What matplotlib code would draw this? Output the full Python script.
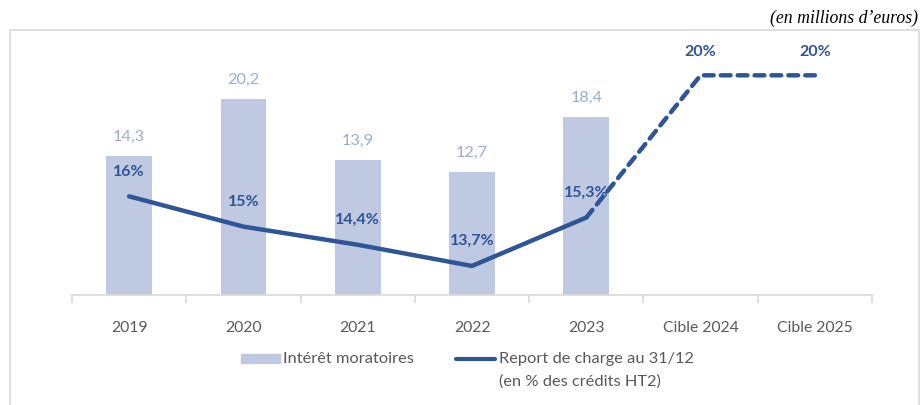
import matplotlib.pyplot as plt
import matplotlib.patches as mpatches
import matplotlib.lines as mlines

# data
categories = ["2019", "2020", "2021", "2022", "2023", "Cible 2024", "Cible 2025"]
interets = [14.3, 20.2, 13.9, 12.7, 18.4]
interets_labels = ["14,3", "20,2", "13,9", "12,7", "18,4"]
report = [16.0, 15.0, 14.4, 13.7, 15.3, 20.0, 20.0]
report_labels = ["16%", "15%", "14,4%", "13,7%", "15,3%", "20%", "20%"]

bar_color = "#BFC9E2"
bar_text = "#9DACD4"
line_color = "#2F5597"
grey = "#595959"
W, H = 921, 406

plt.rcParams['font.family'] = ['Lato', 'DejaVu Sans']

fig = plt.figure(figsize=(W / 100, H / 100), dpi=100)

# outer frame
frame = mpatches.Rectangle((10 / W, -0.1), 909 / W, 1.1 - 31 / H,
                           transform=fig.transFigure, fill=False,
                           edgecolor="#D9D9D9", linewidth=1.2)
fig.patches.append(frame)

fig.text(918 / W, 1 - 18 / H, "(en millions d\u2019euros)", ha="right", va="center",
         family="Liberation Serif", style="italic", fontsize=12.8, color="#000000")

ax = fig.add_axes([72 / W, 110 / H, 800 / W, 256 / H])
ax2 = ax.twinx()

x = list(range(len(categories)))
ax.bar(x[:len(interets)], interets, width=0.4, color=bar_color, zorder=1)
for xi, v, lab in zip(x, interets, interets_labels):
    ax.annotate(lab, (xi, v), xytext=(0, 14.5), textcoords="offset points",
                ha="center", va="center", color=bar_text, fontsize=11.8)

ax.set_xlim(-0.5, len(categories) - 0.5)
ax.set_ylim(0, 26.4)
ax2.set_ylim(12.74, 21.2)

# solid part then dashed projection
ax2.plot(x[:5], report[:5], color=line_color, linewidth=3.2, solid_capstyle="round", zorder=3)
ax2.plot(x[4:], report[4:], color=line_color, linewidth=3.2, linestyle=(0, (2.2, 1.6)),
         dash_capstyle="round", zorder=3)

for i, (xi, v, lab) in enumerate(zip(x, report, report_labels)):
    dy = 17.5 if i >= 5 else 18.5
    ax2.annotate(lab, (xi, v), xytext=(0, dy), textcoords="offset points",
                 ha="center", va="center", color=line_color, fontsize=11.5,
                 fontweight="bold")

for a in (ax, ax2):
    for s in ("top", "right", "left"):
        a.spines[s].set_visible(False)
    a.set_yticks([])
ax2.spines["bottom"].set_visible(False)
ax.spines["bottom"].set_color("#D9D9D9")
ax.spines["bottom"].set_linewidth(1.2)

ax.set_xticks([i - 0.5 for i in range(len(categories) + 1)], minor=True)
ax.set_xticks(x)
ax.set_xticklabels(categories, color=grey, fontsize=11.3)
ax.tick_params(axis="x", which="major", length=0, pad=18)
ax.tick_params(axis="x", which="minor", length=6, color="#D9D9D9", width=1.2)

# legend, drawn by hand so the handle sits on the first line of the two-line label
fig.patches.append(mpatches.Rectangle((241 / W, 1 - 364 / H), 39 / W, 9 / H,
                                      transform=fig.transFigure, color=bar_color))
fig.text(283 / W, 1 - 359 / H, "Int\u00e9r\u00eat moratoires", ha="left", va="center",
         color=grey, fontsize=11.8)
fig.lines.append(mlines.Line2D([456 / W, 495 / W], [1 - 360 / H, 1 - 360 / H],
                               transform=fig.transFigure, color=line_color,
                               linewidth=3, solid_capstyle="round"))
fig.text(499 / W, 1 - 359 / H, "Report de charge au 31/12", ha="left", va="center",
         color=grey, fontsize=11.8)
fig.text(499 / W, 1 - 382 / H, "(en % des cr\u00e9dits HT2)", ha="left", va="center",
         color=grey, fontsize=11.8)

fig.savefig("out.png", dpi=100)
